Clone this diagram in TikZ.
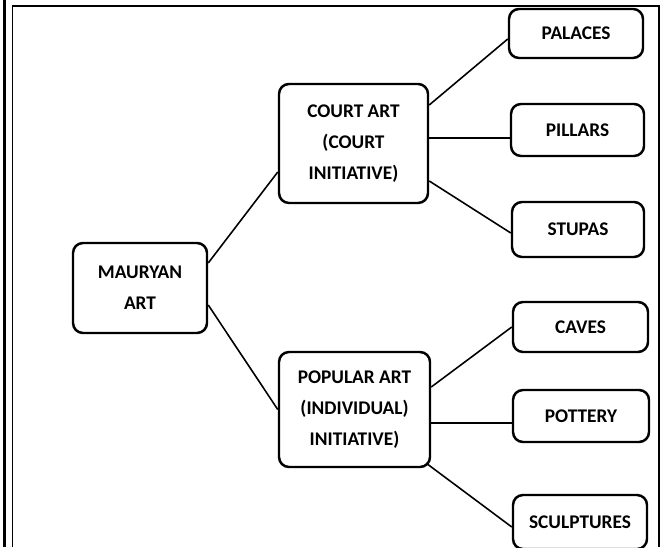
\documentclass[tikz,border=0pt]{standalone}
\usepackage{fontspec}
\setmainfont{Carlito}
\begin{document}
\begin{tikzpicture}[
  box/.style={draw, line width=1.4pt, rounded corners=0.2cm, align=center,
    font=\fontsize{11}{17.6}\selectfont\bfseries, inner sep=2pt},
  link/.style={line width=0.9pt}
]
  \useasboundingbox (0,0) rectangle (13.26,10.94);

  % Frame
  \draw[line width=1.7pt] (0.09,0) -- (0.09,10.94);
  \draw[line width=1.1pt] (0.25,0) -- (0.25,10.82) -- (13.18,10.82) -- (13.18,0);

  % Root
  \node[box, minimum width=2.68cm, minimum height=1.80cm] (mauryan) at (2.80,5.18) {MAURYAN\\ART};

  % Branches
  \node[box, minimum width=2.98cm, minimum height=2.38cm] (court) at (7.07,8.07) {COURT ART\\(COURT\\INITIATIVE)};
  \node[box, minimum width=3.02cm, minimum height=2.30cm] (popular) at (7.09,2.75) {POPULAR ART\\(INDIVIDUAL)\\INITIATIVE)};

  % Leaves
  \node[box, minimum width=2.68cm, minimum height=0.98cm] (palaces) at (11.52,10.27) {PALACES};
  \node[box, minimum width=2.66cm, minimum height=1.04cm] (pillars) at (11.55,8.34) {PILLARS};
  \node[box, minimum width=2.64cm, minimum height=1.10cm] (stupas) at (11.56,6.35) {STUPAS};
  \node[box, minimum width=2.70cm, minimum height=1.00cm] (caves) at (11.61,4.40) {CAVES};
  \node[box, minimum width=2.72cm, minimum height=1.04cm] (pottery) at (11.62,2.62) {POTTERY};
  \node[box, minimum width=2.68cm, minimum height=1.08cm] (sculptures) at (11.60,0.50) {SCULPTURES};

  % Links
  \draw[link] ([yshift=0.5cm]mauryan.east) -- ([yshift=-0.57cm]court.west);
  \draw[link] ([yshift=-0.34cm]mauryan.east) -- (popular.west);

  \draw[link] ([yshift=0.77cm]court.east) -- ([yshift=-0.11cm]palaces.west);
  \draw[link] ([yshift=0.11cm]court.east) -- ([yshift=0.11cm]court.east -| pillars.west);
  \draw[link] ([yshift=-0.75cm]court.east) -- ([yshift=-0.07cm]stupas.west);

  \draw[link] ([yshift=0.45cm]popular.east) -- (caves.west);
  \draw[link] ([yshift=-0.27cm]popular.east) -- ([yshift=-0.27cm]popular.east -| pottery.west);
  \draw[link] ([shift={(-0.1,0.1)}]popular.south east) -- ([yshift=-0.1cm]sculptures.west);
\end{tikzpicture}
\end{document}
